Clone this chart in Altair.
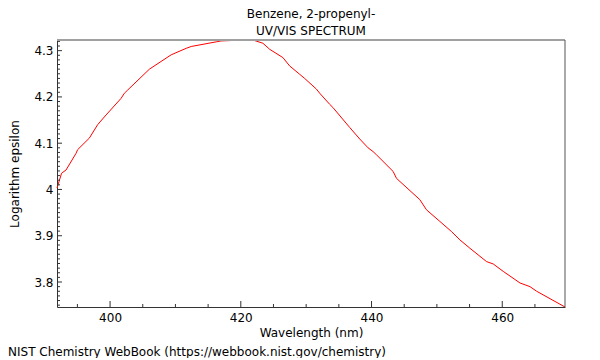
import altair as alt
import pandas as pd

# Spectrum
wavelength = [391.88, 392.58, 393.26, 394.79, 395.04, 396.83, 398.10, 399.39, 401.69,
              402.19, 402.70, 406.02, 409.35, 411.64, 412.41, 416.24, 417.00, 418.78,
              420.07, 421.85, 423.38, 424.41, 426.44, 427.47, 429.00, 429.77, 431.56,
              432.07, 433.60, 434.10, 436.66, 438.20, 439.47, 440.23, 440.75, 443.30,
              443.82, 447.39, 448.41, 450.45, 452.24, 453.52, 455.05, 457.61, 458.62,
              460.15, 462.71, 464.24, 465.27, 469.60]
log_epsilon = [4.003, 4.035, 4.042, 4.078, 4.086, 4.111, 4.140, 4.161, 4.197,
               4.208, 4.215, 4.260, 4.291, 4.305, 4.309, 4.319, 4.321, 4.322,
               4.323, 4.323, 4.316, 4.303, 4.285, 4.267, 4.249, 4.240, 4.217,
               4.208, 4.184, 4.177, 4.134, 4.109, 4.090, 4.082, 4.075, 4.039,
               4.024, 3.978, 3.956, 3.931, 3.909, 3.891, 3.873, 3.844, 3.839,
               3.823, 3.798, 3.790, 3.780, 3.746]

x_major = [400, 420, 440, 460]
x_minor = [395, 405, 410, 415, 425, 430, 435, 445, 450, 455, 465]
y_major = [3.8, 3.9, 4.0, 4.1, 4.2, 4.3]
y_minor = [round(3.75 + 0.01 * i, 2) for i in range(58)]
y_minor = [v for v in y_minor if round(v * 10, 6) != round(round(v * 10), 6)]

title_lines = ["Benzene, 2-propenyl-", "UV/VIS SPECTRUM"]
x_title = "Wavelength (nm)"
y_title = "Logarithm epsilon"
footer = "NIST Chemistry WebBook (https://webbook.nist.gov/chemistry)"

W, H = 508, 267
FONT = "DejaVu Sans"

spec_df = pd.DataFrame({"wl": wavelength, "eps": log_epsilon})
xs = alt.Scale(domain=[min(wavelength), max(wavelength)], nice=False, zero=False)
ys = alt.Scale(domain=[min(log_epsilon), max(log_epsilon)], nice=False, zero=False)

xaxis = alt.Axis(values=x_major, format="d", title=x_title, ticks=False, tickSize=0,
                 labelPadding=5, grid=False, domainColor="#333", titleY=25,
                 titleBaseline="middle")
yaxis = alt.Axis(values=y_major, format=".1~f", title=y_title, ticks=False, tickSize=0,
                 labelPadding=4, grid=False, domainColor="#333", titleX=-43,
                 titleBaseline="middle")


def X(field="wl"):
    return alt.X(f"{field}:Q", scale=xs, axis=xaxis)


def Y(field="eps"):
    return alt.Y(f"{field}:Q", scale=ys, axis=yaxis)


line = alt.Chart(spec_df).mark_line(color="#ff0000", strokeWidth=1).encode(x=X(), y=Y())

xmaj = alt.Chart(pd.DataFrame({"wl": x_major})).mark_rule(color="#333").encode(
    x=X(), y=alt.value(H), y2=alt.value(H - 6))
xmin = alt.Chart(pd.DataFrame({"wl": x_minor})).mark_rule(color="#333").encode(
    x=X(), y=alt.value(H), y2=alt.value(H - 3))
ymaj = alt.Chart(pd.DataFrame({"eps": y_major})).mark_rule(color="#333").encode(
    y=Y(), x=alt.value(0), x2=alt.value(5))
ymin = alt.Chart(pd.DataFrame({"eps": y_minor})).mark_rule(color="#333").encode(
    y=Y(), x=alt.value(0), x2=alt.value(3))

one = pd.DataFrame({"t": [footer]})
top_border = alt.Chart(one).mark_rule(color="#a0a0a0", strokeWidth=2).encode(
    x=alt.value(0), x2=alt.value(W), y=alt.value(0))
right_border = alt.Chart(one).mark_rule(color="#555555", strokeWidth=1).encode(
    x=alt.value(W), y=alt.value(0), y2=alt.value(H))
foot = alt.Chart(one).mark_text(align="left", baseline="middle", fontSize=12,
                                font=FONT, color="black").encode(
    x=alt.value(-49), y=alt.value(312), text="t:N")

chart = alt.layer(line, xmaj, xmin, ymaj, ymin, top_border, right_border, foot).properties(
    width=W, height=H,
    title=alt.Title(title_lines, fontSize=12, fontWeight="normal", font=FONT,
                    color="black", lineHeight=17, offset=0, anchor="middle"),
    autosize=alt.AutoSizeParams(type="none"),
    padding={"left": 49, "top": 32, "right": 12, "bottom": 51},
).configure_view(stroke=None).configure_axis(
    labelFont=FONT, titleFont=FONT, labelFontSize=12, titleFontSize=12,
    labelColor="black", titleColor="black", titleFontWeight="normal",
    domainWidth=1,
)

chart.save("out.html", embed_options={"renderer": "svg", "actions": False})
